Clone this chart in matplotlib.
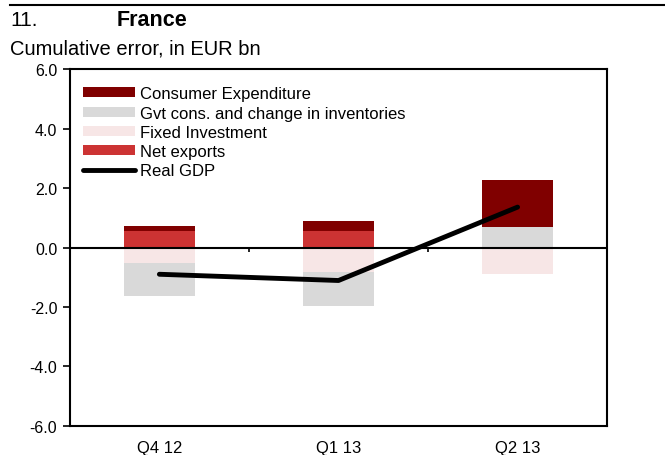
import numpy as np
import matplotlib
matplotlib.use("Agg")
import matplotlib.pyplot as plt

plt.rcParams['font.family'] = ['Liberation Sans', 'DejaVu Sans']

quarters = ["Q4 12", "Q1 13", "Q2 13"]
# stacking order (bottom to top), as in the source spreadsheet
net_exports = [0.57, 0.57, -0.06]
fixed_inv = [-0.51, -0.84, -0.83]
gvt_inv = [-1.11, -1.12, 0.68]
consumer = [0.17, 0.31, 1.59]
real_gdp = [-0.90, -1.11, 1.36]

series = [
    ("Net exports", net_exports, "#cc3333"),
    ("Fixed Investment", fixed_inv, "#f7e6e6"),
    ("Gvt cons. and change in inventories", gvt_inv, "#d9d9d9"),
    ("Consumer Expenditure", consumer, "#800000"),
]

fig = plt.figure(figsize=(6.65, 4.56), dpi=100)
ax = fig.add_axes([0.105, 0.064, 0.808, 0.782])

x = np.arange(len(quarters))
pos_base = np.zeros(len(quarters))
neg_base = np.zeros(len(quarters))
handles = {}
for name, vals, col in series:
    vals = np.array(vals)
    bottoms = np.where(vals >= 0, pos_base, neg_base)
    handles[name] = ax.bar(x, vals, 0.4, bottom=bottoms, color=col, label=name, zorder=2)
    pos_base = pos_base + np.clip(vals, 0, None)
    neg_base = neg_base + np.clip(vals, None, 0)

line, = ax.plot(x, real_gdp, color="black", linewidth=3.5, label="Real GDP",
                solid_capstyle="round", zorder=4)

# zero line with category separators
ax.axhline(0, color="black", linewidth=1.5, zorder=3)
ax.vlines([0.5, 1.5], -0.15, 0, color="black", linewidth=1.2, zorder=3)

ax.set_xlim(-0.5, 2.5)
ax.set_ylim(-6, 6)
yt = np.arange(-6, 6.1, 2)
ax.set_yticks(yt)
ax.set_yticklabels([f"{v:.1f}" for v in yt])
ax.set_xticks(x)
ax.set_xticklabels(quarters)
ax.tick_params(axis="x", length=0, labelsize=12, pad=10)
ax.tick_params(axis="y", direction="out", length=5, width=1.2, labelsize=11.5, pad=4)
for s in ax.spines.values():
    s.set_linewidth(1.5)

order = ["Consumer Expenditure", "Gvt cons. and change in inventories",
         "Fixed Investment", "Net exports"]
leg = ax.legend([handles[n] for n in order] + [line], order + ["Real GDP"],
                loc="upper left", bbox_to_anchor=(0.006, 0.98), frameon=False,
                fontsize=12, handlelength=3.1, handleheight=0.54, handletextpad=0.3,
                labelspacing=0.25, borderaxespad=0.2)

fig.add_artist(plt.Line2D([0.015, 1.0], [0.987, 0.987], color="black", linewidth=1.5))
fig.text(0.015, 0.956, "11.", fontsize=15, va="center")
fig.text(0.176, 0.956, "France", fontsize=15.5, fontweight="bold", va="center")
fig.text(0.015, 0.893, "Cumulative error, in EUR bn", fontsize=14.5, va="center")

fig.savefig("out.png", dpi=100)
